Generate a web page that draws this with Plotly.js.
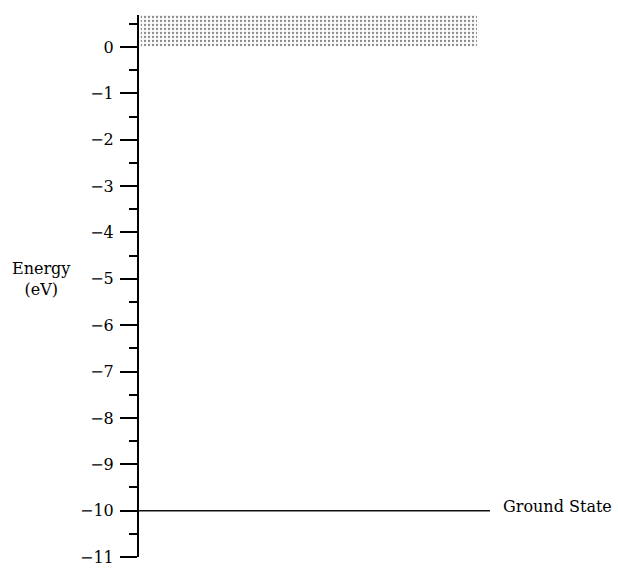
<!DOCTYPE html>
<html>
<head>
<meta charset="utf-8">
<script src="https://cdn.plot.ly/plotly-3.0.1.min.js"></script>
<style>html,body{margin:0;padding:0;background:#fff;}#chart{width:618px;height:568px;}</style>
</head>
<body>
<div id="chart"></div>
<script>
// Data
const tickValues = [0, -1, -2, -3, -4, -5, -6, -7, -8, -9, -10, -11];
const tickLabels = ['0', '\u22121', '\u22122', '\u22123', '\u22124', '\u22125', '\u22126', '\u22127', '\u22128', '\u22129', '\u221210', '\u221211'];
const levelEnergies = [-10];
const levelNames = ['Ground State'];
const continuumBottom = 0;
const continuumTop = 0.72;
const yLabel = 'Energy<br>(eV)';

const FONT = 'DejaVu Serif, Liberation Serif, serif';

const traces = [];
// continuum band (ionized states)
traces.push({
  x: [0.005, 0.963, 0.963, 0.005, 0.005],
  y: [continuumBottom, continuumBottom, continuumTop, continuumTop, continuumBottom],
  mode: 'lines', line: {width: 0, color: 'rgba(0,0,0,0)'},
  fill: 'toself', fillcolor: '#ffffff',
  fillpattern: {shape: '.', fgcolor: '#8a8a8a', bgcolor: '#fbfbfb', size: 4, solidity: 0.25},
  hoverinfo: 'skip', showlegend: false
});
levelEnergies.forEach(function(e) {
  traces.push({
    x: [0, 1], y: [e, e], mode: 'lines',
    line: {color: '#111', width: 1.5},
    hoverinfo: 'skip', showlegend: false
  });
});

const annotations = levelEnergies.map(function(e, i) {
  return {
    x: 1, xref: 'x', y: e, yref: 'y', xanchor: 'left', yanchor: 'middle',
    xshift: 11, yshift: 4, text: levelNames[i], showarrow: false,
    font: {family: FONT, size: 16, color: '#000'}
  };
});
annotations.push({
  x: -0.28, xref: 'paper', y: -5, yref: 'y', xanchor: 'center', yanchor: 'middle',
  text: yLabel, showarrow: false, font: {family: FONT, size: 16, color: '#000'}
});

const layout = {
  width: 618, height: 568,
  margin: {l: 139, r: 128, t: 15, b: 11, pad: 0},
  paper_bgcolor: '#fff', plot_bgcolor: '#fff',
  showlegend: false,
  xaxis: {visible: false, range: [0, 1], fixedrange: true},
  yaxis: {
    range: [-11, 0.69], showgrid: false, zeroline: false,
    showline: true, linecolor: '#000', linewidth: 2,
    ticks: 'outside', ticklen: 17, tickwidth: 2, tickcolor: '#000',
    tickvals: tickValues, ticktext: tickLabels,
    ticklabelstandoff: 3, ticklabeloverflow: 'allow',
    tickfont: {family: FONT, size: 16, color: '#000'},
    minor: {dtick: 0.5, tick0: 0.5, ticks: 'outside', ticklen: 8, tickwidth: 2, tickcolor: '#000', showgrid: false}
  },
  annotations: annotations
};

Plotly.newPlot('chart', traces, layout, {displayModeBar: false, staticPlot: true});
</script>
</body>
</html>
